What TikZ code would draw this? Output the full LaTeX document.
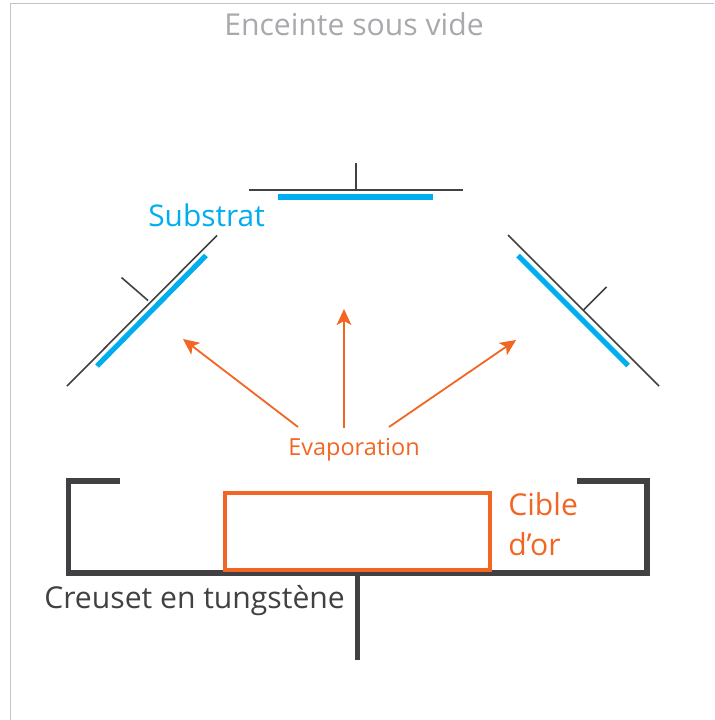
\documentclass[tikz,border=0pt]{standalone}
\usepackage{fontspec}
\setmainfont{Open Sans}
\usetikzlibrary{arrows.meta}

\definecolor{cibleorange}{HTML}{F26522}
\definecolor{substratblue}{HTML}{00AEEF}
\definecolor{creusetgray}{HTML}{414042}
\definecolor{enceintegray}{HTML}{A7A9AC}

\tikzset{
	support/.style = {creusetgray, line width = 1.2pt},
	substrat/.style = {substratblue, line width = 3.9pt},
	creuset/.style = {creusetgray, line width = 4pt, miter limit = 10},
	cible/.style = {cibleorange, line width = 3pt},
	jet/.style = {cibleorange, line width = 1.35pt, -{Stealth[length = 12pt, width = 11pt, inset = 3pt]}},
	legende/.style = {inner sep = 0, font = \fontsize{#1}{#1}\selectfont}
}

\begin{document}
\begin{tikzpicture}[x = 0.75pt, y = -0.75pt]

	% Frame

	\useasboundingbox (0, 0) rectangle (714, 720);
	\draw [enceintegray!70, line width = 0.9pt] (10.5, 720) -- (10.5, 3.5) -- (714, 3.5);
	\node [legende = 22.6, enceintegray, anchor = base] (enceinte) at (354, 36) {Enceinte sous vide};

	% Substrate holders

	\draw [support] (249, 190) -- (463, 190);
	\draw [support] (356, 190) -- (356, 163);
	\draw [substrat] (278, 197) -- (433, 197);

	\draw [support] (67, 386) -- (217, 235.5);
	\draw [support] (148, 300.5) -- (121.5, 277.5);
	\draw [substrat] (97, 366) -- (206, 255.5);

	\draw [support] (508, 235) -- (659, 386);
	\draw [support] (583.5, 310) -- (606.5, 287);
	\draw [substrat] (518, 255.5) -- (628, 365.5);

	\node [legende = 22.4, substratblue, anchor = base west] (substrat) at (148, 227) {Substrat};

	% Evaporation

	\node [legende = 17.6, cibleorange, anchor = base] (evaporation) at (354, 455) {Evaporation};

	\coordinate (jetA) at (298, 427);
	\coordinate (jetB) at (344, 428);
	\coordinate (jetC) at (389, 427);
	\coordinate (finA) at (183, 339);
	\coordinate (finB) at (344, 309);
	\coordinate (finC) at (516, 340);

	\draw [jet] (jetA) -- (finA);
	\draw [jet] (jetB) -- (finB);
	\draw [jet] (jetC) -- (finC);

	% Crucible

	\draw [creuset] (120, 481) -- (68.5, 481) -- (68.5, 573) -- (647, 573) -- (647, 481) -- (577, 481);
	\draw [creuset] (357.5, 573) -- (357.5, 660);
	\draw [cible] (224.5, 492.5) rectangle (490, 569.5);

	\node [legende = 22.6, creusetgray, anchor = base west] (creuset) at (44, 608) {Creuset en tungstène};
	\node [legende = 22.6, cibleorange, anchor = base west] (cibleA) at (508, 515) {Cible};
	\node [legende = 22.6, cibleorange, anchor = base west] (cibleB) at (508, 555) {d’or};

\end{tikzpicture}
\end{document}
